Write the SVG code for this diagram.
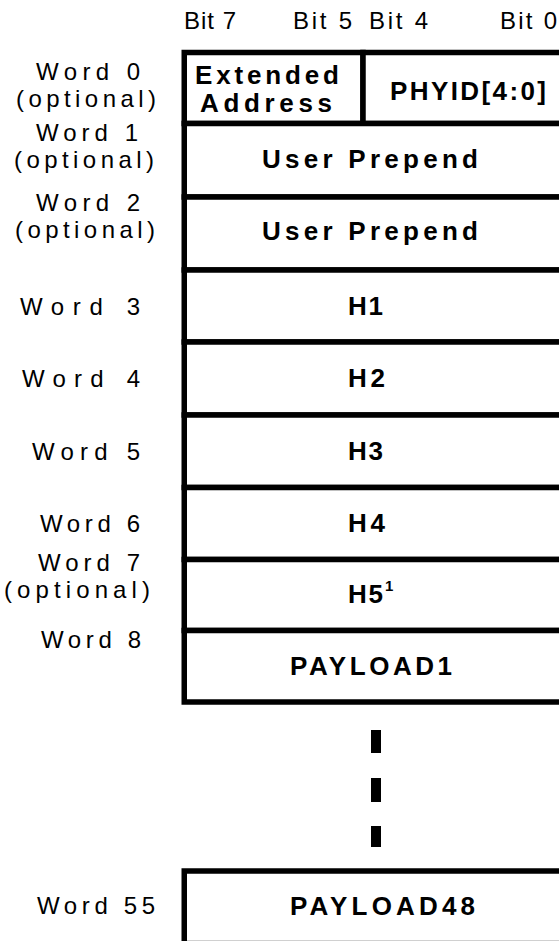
<svg xmlns="http://www.w3.org/2000/svg" width="559" height="941" viewBox="0 0 559 941">
<style>
.lbl{font-family:"Liberation Sans",Arial,sans-serif;font-size:24px;fill:#000}
.bit{font-family:"Liberation Sans",Arial,sans-serif;font-size:24px;fill:#000}
.fld{font-family:"Liberation Sans",Arial,sans-serif;font-size:26px;font-weight:bold;fill:#000}
.box{fill:#fff;stroke:#000;stroke-width:5.5}
.dash{fill:#000}
</style>
<rect width="559" height="941" fill="#fff"/>
<g id="header">
<text class="bit" x="184" y="29" textLength="52" lengthAdjust="spacing">Bit 7</text>
<text class="bit" x="293" y="29" textLength="59" lengthAdjust="spacing">Bit 5</text>
<text class="bit" x="369" y="29" textLength="59" lengthAdjust="spacing">Bit 4</text>
<text class="bit" x="500" y="29" textLength="57" lengthAdjust="spacing">Bit 0</text>
</g>
<g id="labels">
<text class="lbl" x="36" y="80" textLength="104" lengthAdjust="spacing">Word 0</text>
<text class="lbl" x="16" y="107" textLength="140" lengthAdjust="spacing">(optional)</text>
<text class="lbl" x="36" y="141" textLength="102" lengthAdjust="spacing">Word 1</text>
<text class="lbl" x="14" y="168" textLength="140" lengthAdjust="spacing">(optional)</text>
<text class="lbl" x="36" y="211" textLength="104" lengthAdjust="spacing">Word 2</text>
<text class="lbl" x="15" y="238" textLength="140" lengthAdjust="spacing">(optional)</text>
<text class="lbl" x="20" y="315" textLength="120" lengthAdjust="spacing">Word 3</text>
<text class="lbl" x="22" y="387" textLength="118" lengthAdjust="spacing">Word 4</text>
<text class="lbl" x="32" y="460" textLength="108" lengthAdjust="spacing">Word 5</text>
<text class="lbl" x="40" y="532" textLength="100" lengthAdjust="spacing">Word 6</text>
<text class="lbl" x="38" y="571" textLength="102" lengthAdjust="spacing">Word 7</text>
<text class="lbl" x="4" y="598" textLength="146" lengthAdjust="spacing">(optional)</text>
<text class="lbl" x="41" y="648" textLength="100" lengthAdjust="spacing">Word 8</text>
<text class="lbl" x="37" y="914" textLength="118" lengthAdjust="spacing">Word 55</text>
</g>
<g id="word0">
<rect class="box" x="184.25" y="52.5" width="178.75" height="71"/>
<rect class="box" x="363" y="52.5" width="240" height="71"/>
<text class="fld" x="195" y="84" textLength="144" lengthAdjust="spacing">Extended</text>
<text class="fld" x="200" y="112" textLength="132" lengthAdjust="spacing">Address</text>
<text class="fld" x="390" y="100" textLength="156" lengthAdjust="spacing">PHYID[4:0]</text>
</g>
<g id="word1">
<rect class="box" x="184.25" y="123.5" width="420" height="73.5"/>
<text class="fld" x="262" y="168" textLength="216" lengthAdjust="spacing">User Prepend</text>
</g>
<g id="word2">
<rect class="box" x="184.25" y="197" width="420" height="73"/>
<text class="fld" x="262" y="240" textLength="216" lengthAdjust="spacing">User Prepend</text>
</g>
<g id="word3">
<rect class="box" x="184.25" y="270" width="420" height="72"/>
<text class="fld" x="348" y="315" textLength="35" lengthAdjust="spacing">H1</text>
</g>
<g id="word4">
<rect class="box" x="184.25" y="342" width="420" height="73"/>
<text class="fld" x="348" y="387" textLength="37" lengthAdjust="spacing">H2</text>
</g>
<g id="word5">
<rect class="box" x="184.25" y="415" width="420" height="72.5"/>
<text class="fld" x="348" y="460" textLength="35" lengthAdjust="spacing">H3</text>
</g>
<g id="word6">
<rect class="box" x="184.25" y="487.5" width="420" height="72"/>
<text class="fld" x="348" y="532" textLength="37" lengthAdjust="spacing">H4</text>
</g>
<g id="word7">
<rect class="box" x="184.25" y="559.5" width="420" height="71"/>
<text class="fld" x="348" y="603" textLength="35" lengthAdjust="spacing">H5</text>
<text class="fld" x="385" y="591" style="font-size:15px">1</text>
</g>
<g id="word8">
<rect class="box" x="184.25" y="630.5" width="420" height="71.5"/>
<text class="fld" x="290" y="675" textLength="162" lengthAdjust="spacing">PAYLOAD1</text>
</g>
<g id="connectors">
<rect class="dash" x="371" y="730" width="10" height="23"/>
<rect class="dash" x="371" y="778" width="10" height="24"/>
<rect class="dash" x="371" y="826" width="10" height="21"/>
</g>
<g id="word55">
<rect class="box" x="184.25" y="871" width="420" height="100"/>
<line x1="187" y1="940.5" x2="559" y2="940.5" stroke="#d0d0d0" stroke-width="1"/>
<text class="fld" x="290" y="915" textLength="185" lengthAdjust="spacing">PAYLOAD48</text>
</g>
</svg>
